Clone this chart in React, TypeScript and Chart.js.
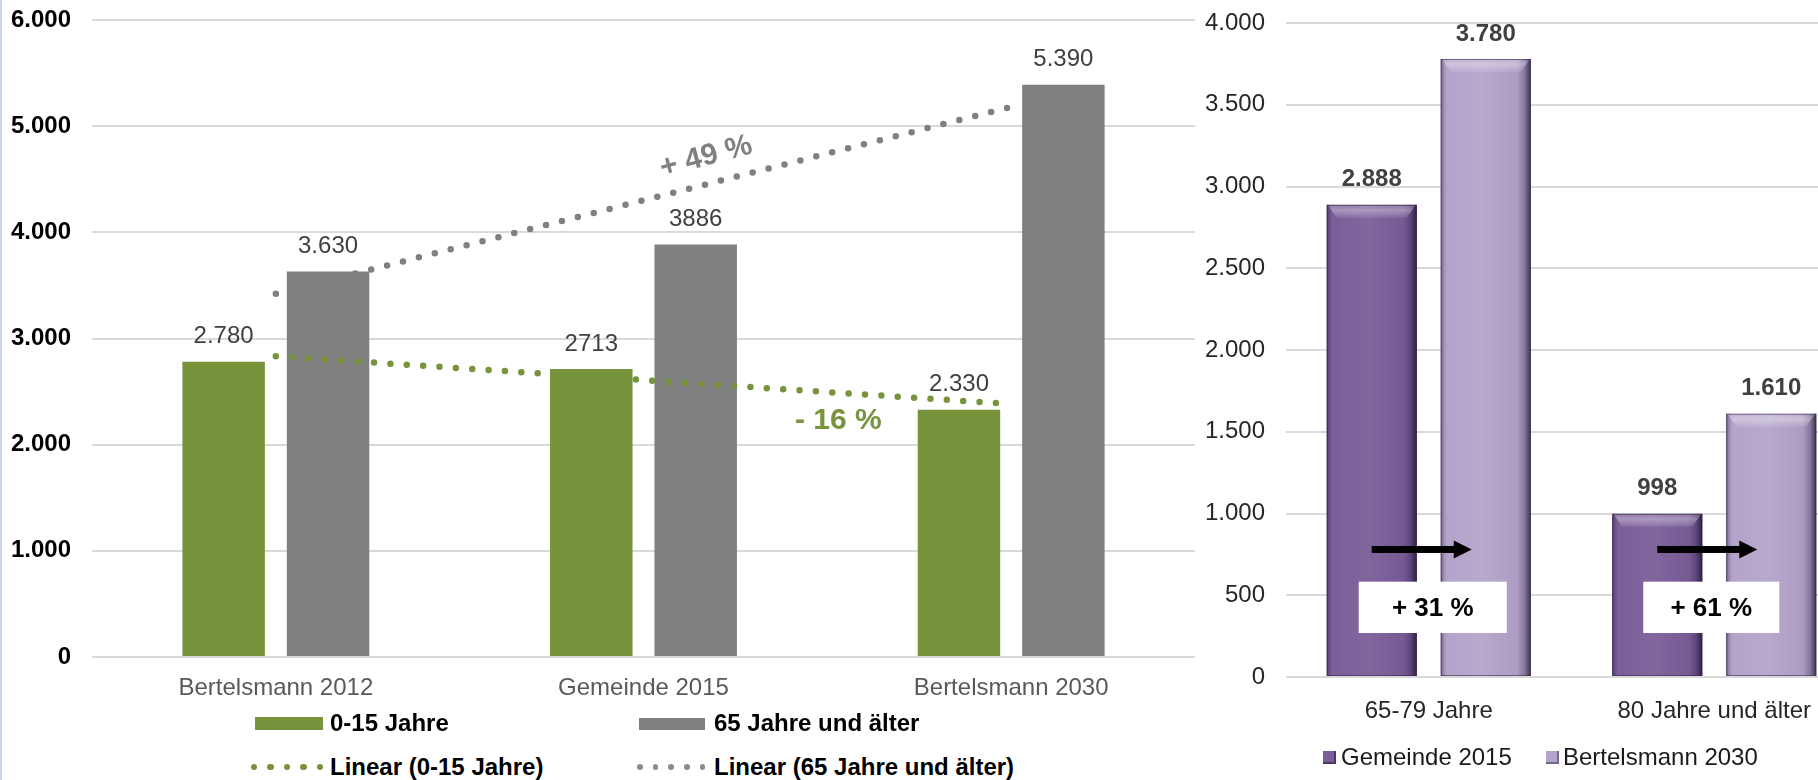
import React, { useEffect, useRef } from "react";
import { Chart, registerables } from "chart.js";
Chart.register(...registerables);

const FONT = '"Liberation Sans", Arial, Helvetica, sans-serif';
Chart.defaults.font.family = FONT;

// ---------- Left chart data ----------
const leftCategories = ["Bertelsmann 2012", "Gemeinde 2015", "Bertelsmann 2030"];
const youngValues = [2780, 2713, 2330];
const oldValues = [3630, 3886, 5390];
const youngValueLabels = ["2.780", "2713", "2.330"];
const oldValueLabels = ["3.630", "3886", "5.390"];
const youngTrend = [2833, 2608, 2383];
const oldTrend = [3422, 4302, 5182];
const leftYTickLabels = ["0", "1.000", "2.000", "3.000", "4.000", "5.000", "6.000"];
const leftSeriesNames = ["0-15 Jahre", "65 Jahre und älter"];
const leftTrendNames = ["Linear (0-15 Jahre)", "Linear (65 Jahre und älter)"];
const trendChangeLabels = ["+ 49 %", "- 16 %"];

// ---------- Right chart data ----------
const rightCategories = ["65-79 Jahre", "80 Jahre und älter"];
const gemeinde2015 = [2888, 998];
const bertelsmann2030 = [3780, 1610];
const gemeindeLabels = ["2.888", "998"];
const bertelsmannLabels = ["3.780", "1.610"];
const rightYTickLabels = ["0", "500", "1.000", "1.500", "2.000", "2.500", "3.000", "3.500", "4.000"];
const rightSeriesNames = ["Gemeinde 2015", "Bertelsmann 2030"];
const growthLabels = ["+ 31 %", "+ 61 %"];

const GREEN = "#77933C";
const GRAY = "#808080";
const PURPLE_DARK = "#7B5E99";
const PURPLE_LIGHT = "#B4A4CB";

const leftPlugin = {
  id: "leftLabels",
  afterDatasetsDraw(chart: any) {
    const ctx = chart.ctx;
    const xs = chart.scales.x;
    const ys = chart.scales.y;
    ctx.save();
    ctx.font = `24px ${FONT}`;
    ctx.fillStyle = "#404040";
    ctx.textAlign = "center";
    ctx.textBaseline = "middle";
    const pairs: [number, string[]][] = [
      [0, youngValueLabels],
      [1, oldValueLabels],
    ];
    pairs.forEach(([di, labels]) => {
      const meta = chart.getDatasetMeta(di);
      meta.data.forEach((bar: any, i: number) => {
        ctx.fillText(labels[i], bar.x, bar.y - 25);
      });
    });
    // trend change annotations
    ctx.font = `bold 30px ${FONT}`;
    ctx.fillStyle = GRAY;
    ctx.save();
    ctx.translate(xs.getPixelForValue(1.17), ys.getPixelForValue(4710));
    ctx.rotate((-15 * Math.PI) / 180);
    ctx.fillText(trendChangeLabels[0], 0, 0);
    ctx.restore();
    ctx.fillStyle = GREEN;
    ctx.fillText(trendChangeLabels[1], xs.getPixelForValue(1.53), ys.getPixelForValue(2225));
    ctx.restore();
  },
};

const rightPlugin = {
  id: "rightDecor",
  afterDatasetsDraw(chart: any) {
    const ctx = chart.ctx;
    const ys = chart.scales.y;
    const xs = chart.scales.x;
    ctx.save();
    // bevel effect on bars
    [0, 1].forEach((di) => {
      const meta = chart.getDatasetMeta(di);
      meta.data.forEach((bar: any) => {
        const w = bar.width;
        const l = bar.x - w / 2;
        const r = bar.x + w / 2;
        const t = bar.y;
        const b = bar.base;
        const g = ctx.createLinearGradient(l, 0, r, 0);
        g.addColorStop(0, "rgba(30,15,50,0.45)");
        g.addColorStop(0.04, "rgba(30,15,50,0.12)");
        g.addColorStop(0.1, "rgba(255,255,255,0.0)");
        g.addColorStop(0.45, "rgba(255,255,255,0.05)");
        g.addColorStop(0.85, "rgba(30,15,50,0.05)");
        g.addColorStop(0.93, "rgba(30,15,50,0.3)");
        g.addColorStop(1, "rgba(20,10,35,0.75)");
        ctx.fillStyle = g;
        ctx.fillRect(l, t, w, b - t);
        const bev = 13;
        ctx.beginPath();
        ctx.moveTo(l + 1, t);
        ctx.lineTo(r - 1, t);
        ctx.lineTo(r - 10, t + bev);
        ctx.lineTo(l + 10, t + bev);
        ctx.closePath();
        const tg = ctx.createLinearGradient(0, t, 0, t + bev);
        tg.addColorStop(0, "rgba(255,255,255,0.15)");
        tg.addColorStop(0.4, "rgba(255,255,255,0.35)");
        tg.addColorStop(1, "rgba(255,255,255,0.08)");
        ctx.fillStyle = tg;
        ctx.fill();
        ctx.strokeStyle = "rgba(50,35,70,0.55)";
        ctx.lineWidth = 1;
        ctx.strokeRect(l + 0.5, t + 0.5, w - 1, b - t - 1);
      });
    });
    // value labels
    ctx.font = `bold 24px ${FONT}`;
    ctx.fillStyle = "#404040";
    ctx.textAlign = "center";
    ctx.textBaseline = "middle";
    const sets: [number, string[]][] = [
      [0, gemeindeLabels],
      [1, bertelsmannLabels],
    ];
    sets.forEach(([di, labels]) => {
      chart.getDatasetMeta(di).data.forEach((bar: any, i: number) => {
        ctx.fillText(labels[i], bar.x, bar.y - 25);
      });
    });
    // arrows and boxes
    const dark = chart.getDatasetMeta(0).data;
    const light = chart.getDatasetMeta(1).data;
    const boxWidths = [148, 136];
    const boxOffsets = [4, -3];
    rightCategories.forEach((_, i) => {
      const ay = ys.getPixelForValue(780);
      const x0 = dark[i].x;
      const x1 = light[i].x - 14;
      ctx.fillStyle = "#000";
      ctx.fillRect(x0, ay - 3.5, x1 - x0 - 16, 7);
      ctx.beginPath();
      ctx.moveTo(x1 - 18, ay - 9);
      ctx.lineTo(x1, ay);
      ctx.lineTo(x1 - 18, ay + 9);
      ctx.closePath();
      ctx.fill();
      const cx = xs.getPixelForValue(i) + boxOffsets[i];
      const top = ys.getPixelForValue(583);
      const bot = ys.getPixelForValue(269);
      ctx.fillStyle = "#fff";
      ctx.fillRect(cx - boxWidths[i] / 2, top, boxWidths[i], bot - top);
      ctx.fillStyle = "#000";
      ctx.font = `bold 26px ${FONT}`;
      ctx.fillText(growthLabels[i], cx, (top + bot) / 2 + 1);
    });
    ctx.restore();
  },
};

export default function App() {
  const leftRef = useRef<HTMLCanvasElement>(null);
  const rightRef = useRef<HTMLCanvasElement>(null);

  useEffect(() => {
    const left = new Chart(leftRef.current as HTMLCanvasElement, {
      type: "bar",
      data: {
        labels: leftCategories,
        datasets: [
          {
            type: "bar",
            label: leftSeriesNames[0],
            data: youngValues,
            backgroundColor: GREEN,
            categoryPercentage: 0.568,
            barPercentage: 0.79,
            order: 2,
          },
          {
            type: "bar",
            label: leftSeriesNames[1],
            data: oldValues,
            backgroundColor: GRAY,
            categoryPercentage: 0.568,
            barPercentage: 0.79,
            order: 2,
          },
          {
            type: "line",
            label: leftTrendNames[0],
            data: youngTrend,
            borderColor: GREEN,
            borderWidth: 6.5,
            borderDash: [0, 16.4],
            borderCapStyle: "round",
            pointRadius: 0,
            fill: false,
            tension: 0,
            order: 1,
          },
          {
            type: "line",
            label: leftTrendNames[1],
            data: oldTrend,
            borderColor: GRAY,
            borderWidth: 6.5,
            borderDash: [0, 16.4],
            borderCapStyle: "round",
            pointRadius: 0,
            fill: false,
            tension: 0,
            order: 1,
          },
        ] as any,
      },
      options: {
        responsive: false,
        animation: false,
        layout: { padding: { top: 20, right: 5, left: 0, bottom: 0 } },
        plugins: { legend: { display: false }, tooltip: { enabled: false } },
        scales: {
          x: {
            grid: { display: false },
            border: { display: false },
            ticks: { font: { size: 24 }, color: "#595959", padding: 9 },
            afterFit: (s: any) => {
              s.height = 53;
            },
          },
          y: {
            min: 0,
            max: 6000,
            grid: { color: "#d9d9d9", lineWidth: 2, drawTicks: false },
            border: { display: false },
            ticks: {
              stepSize: 1000,
              padding: 21,
              color: "#000",
              font: { size: 24, weight: "bold" },
              callback: (_v: any, i: number) => leftYTickLabels[i],
            },
            afterFit: (s: any) => {
              s.width = 92;
              s.paddingTop = 0;
              s.paddingBottom = 0;
            },
          },
        },
      } as any,
      plugins: [leftPlugin],
    });

    const right = new Chart(rightRef.current as HTMLCanvasElement, {
      type: "bar",
      data: {
        labels: rightCategories,
        datasets: [
          {
            label: rightSeriesNames[0],
            data: gemeinde2015,
            backgroundColor: PURPLE_DARK,
            categoryPercentage: 0.7986,
            barPercentage: 0.79,
          },
          {
            label: rightSeriesNames[1],
            data: bertelsmann2030,
            backgroundColor: PURPLE_LIGHT,
            categoryPercentage: 0.7986,
            barPercentage: 0.79,
          },
        ],
      },
      options: {
        responsive: false,
        animation: false,
        layout: { padding: { top: 23, right: 3, left: 0, bottom: 0 } },
        plugins: { legend: { display: false }, tooltip: { enabled: false } },
        scales: {
          x: {
            grid: { display: false },
            border: { display: false },
            ticks: { font: { size: 24 }, color: "#262626", padding: 12 },
            afterFit: (s: any) => {
              s.height = 63;
            },
          },
          y: {
            min: 0,
            max: 4000,
            grid: { color: "#d9d9d9", lineWidth: 2, drawTicks: false },
            border: { display: false },
            ticks: {
              stepSize: 500,
              padding: 21,
              color: "#262626",
              font: { size: 24 },
              callback: (_v: any, i: number) => rightYTickLabels[i],
            },
            afterFit: (s: any) => {
              s.width = 91;
              s.paddingTop = 0;
              s.paddingBottom = 0;
            },
          },
        },
      } as any,
      plugins: [rightPlugin],
    });

    return () => {
      left.destroy();
      right.destroy();
    };
  }, []);

  const legendText: React.CSSProperties = {
    position: "absolute",
    font: `bold 24px ${FONT}`,
    color: "#000",
    lineHeight: "28px",
    whiteSpace: "nowrap",
  };
  const dots = (x0: number, y: number, color: string, step: number, d: number) =>
    [0, 1, 2, 3, 4].map((k) => (
      <div
        key={k}
        style={{
          position: "absolute",
          left: x0 + k * step - d / 2,
          top: y - d / 2,
          width: d,
          height: d,
          borderRadius: "50%",
          background: color,
        }}
      />
    ));

  return (
    <div
      style={{
        position: "fixed",
        left: 0,
        top: 0,
        width: 1818,
        height: 780,
        overflow: "hidden",
        background: "#fff",
        fontFamily: FONT,
      }}
    >
      <div style={{ position: "absolute", left: 0, top: 0, width: 1200, height: 710 }}>
        <canvas ref={leftRef} width={1200} height={710} style={{ width: 1200, height: 710, display: "block" }} />
      </div>
      <div style={{ position: "absolute", left: 1195, top: 0, width: 665, height: 740 }}>
        <canvas ref={rightRef} width={665} height={740} style={{ width: 665, height: 740, display: "block" }} />
      </div>
      <div style={{ position: "absolute", left: 0, top: 0, width: 2, height: 780, background: "#cbd5ea" }} />

      {/* left legend */}
      <div style={{ position: "absolute", left: 255, top: 717, width: 68, height: 13, background: GREEN }} />
      <div style={{ ...legendText, left: 330, top: 709 }}>{leftSeriesNames[0]}</div>
      <div style={{ position: "absolute", left: 639, top: 718, width: 66, height: 12, background: GRAY }} />
      <div style={{ ...legendText, left: 714, top: 709 }}>{leftSeriesNames[1]}</div>
      {dots(254, 767, GREEN, 16.5, 6.5)}
      <div style={{ ...legendText, left: 330, top: 753 }}>{leftTrendNames[0]}</div>
      {dots(640, 767, "#8c8c8c", 15.6, 5.5)}
      <div style={{ ...legendText, left: 714, top: 753 }}>{leftTrendNames[1]}</div>

      {/* right legend */}
      <div style={{ position: "absolute", left: 1323, top: 751, width: 13, height: 13, background: PURPLE_DARK, boxShadow: "inset -2px -2px 0 rgba(30,15,50,0.5)" }} />
      <div style={{ ...legendText, font: `24px ${FONT}`, color: "#1a1a1a", left: 1341, top: 743 }}>{rightSeriesNames[0]}</div>
      <div style={{ position: "absolute", left: 1546, top: 751, width: 13, height: 13, background: PURPLE_LIGHT, boxShadow: "inset -2px -2px 0 rgba(30,15,50,0.4)" }} />
      <div style={{ ...legendText, font: `24px ${FONT}`, color: "#1a1a1a", left: 1563, top: 743 }}>{rightSeriesNames[1]}</div>
    </div>
  );
}
